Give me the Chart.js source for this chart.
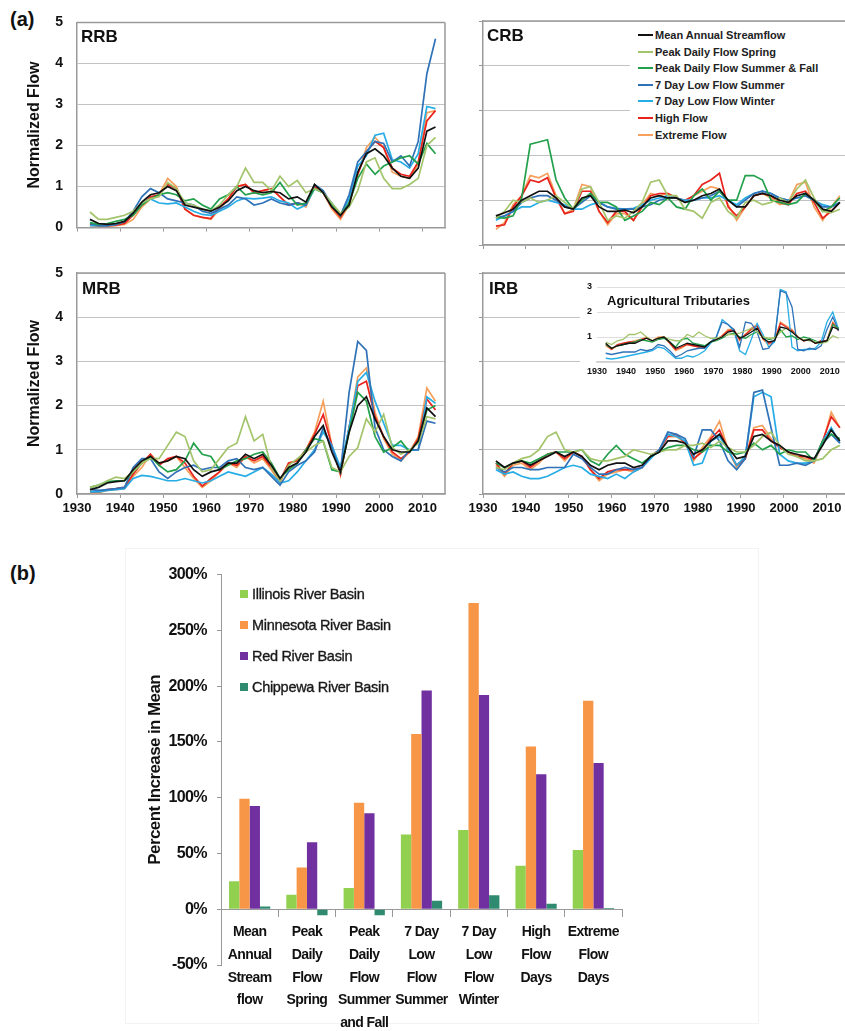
<!DOCTYPE html>
<html>
<head>
<meta charset="utf-8">
<script src="https://cdn.jsdelivr.net/npm/chart.js@4.4.1/dist/chart.umd.min.js"></script>
<style>
    body { margin: 0; background: #fff; width: 845px; height: 1031px; position: relative; overflow: hidden; font-family: 'Liberation Sans', Arial, sans-serif; }
    .pane { position: absolute; }
    canvas { display: block; }
    .tag { position: absolute; font-weight: bold; color: #111; line-height: 20px; }
    .legend-row { height: 16.6px; line-height: 16.6px; white-space: nowrap; font-size: 11px; font-weight: bold; color: #222; }
    .legend-row i { display: inline-block; width: 15px; height: 2px; vertical-align: middle; margin-right: 2px; position: relative; top: -1px; }
    .bar-row { height: 31px; line-height: 31px; white-space: nowrap; font-size: 14.5px; color: #1a1a1a; letter-spacing: -0.3px; -webkit-text-stroke: 0.35px #1a1a1a; }
    .bar-row i { display: inline-block; width: 8px; height: 8px; margin-right: 4px; vertical-align: middle; position: relative; top: -1px; }
</style>
</head>
<body>

<div class="tag" style="left:10px;top:9px;font-size:20px">(a)</div>
<div class="tag" style="left:10px;top:563px;font-size:20px">(b)</div>

<div class="pane" style="left:0;top:0"><canvas id="rrbChart" width="450" height="250"></canvas></div>
<div class="pane" style="left:462px;top:0"><canvas id="crbChart" width="383" height="250"></canvas></div>
<div class="pane" style="left:0;top:250px"><canvas id="mrbChart" width="450" height="270"></canvas></div>
<div class="pane" style="left:462px;top:250px"><canvas id="irbChart" width="383" height="270"></canvas></div>
<div class="pane" style="left:580px;top:275px;background:#fff"><canvas id="agChart" width="265" height="108"></canvas></div>

<div class="tag" style="left:81px;top:27px;font-size:17px">RRB</div>
<div class="tag" style="left:487px;top:26px;font-size:17px">CRB</div>
<div class="tag" style="left:82px;top:279px;font-size:17px">MRB</div>
<div class="tag" style="left:489px;top:279px;font-size:17px">IRB</div>
<div class="tag" style="left:607px;top:291px;font-size:13px">Agricultural Tributaries</div>

<div id="crbLegend" class="pane" style="left:630px;top:27px;width:215px;height:118px;background:#fff;padding-left:8px;box-sizing:border-box"></div>

<div class="pane" style="left:125px;top:548px;width:632px;height:474px;border:1px solid #f3f3f3"></div>
<div class="pane" style="left:0;top:555px"><canvas id="barChart" width="640" height="476"></canvas></div>
<div id="barLegend" class="pane" style="left:240px;top:579px"></div>

<script>
// --- Series shared by the four basin panels ---
const years = [1933,1935,1937,1939,1941,1943,1945,1947,1949,1951,1953,1955,1957,1959,1961,1963,1965,1967,1969,1971,1973,1975,1977,1979,1981,1983,1985,1987,1989,1991,1993,1995,1997,1999,2001,2003,2005,2007,2009,2011,2013];
const seriesNames = ['Mean Annual Streamflow', 'Peak Daily Flow Spring', 'Peak Daily Flow Summer & Fall', '7 Day Low Flow Summer', '7 Day Low Flow Winter', 'High Flow', 'Extreme Flow'];
const seriesColors = ['#111111', '#a3c46a', '#22a04b', '#2f72b8', '#27ade6', '#e8231d', '#f5a05c'];
const yTicks = [0, 1, 2, 3, 4, 5];

// RRB
const rrbMean      = [0.2,0.1,0.08,0.1,0.15,0.35,0.62,0.8,0.85,1.0,0.9,0.55,0.5,0.45,0.4,0.5,0.65,0.9,1.0,0.9,0.85,0.88,0.85,0.7,0.75,0.62,1.05,0.85,0.5,0.3,0.55,1.35,1.8,1.92,1.75,1.45,1.25,1.2,1.45,2.35,2.45];
const rrbSpring    = [0.38,0.2,0.2,0.25,0.3,0.4,0.6,0.7,0.75,1.1,0.95,0.6,0.55,0.45,0.4,0.55,0.8,1.0,1.45,1.1,1.1,0.9,1.25,1.0,1.15,0.85,0.95,0.85,0.6,0.35,0.5,0.9,1.6,1.7,1.2,0.95,0.95,1.05,1.2,2.0,2.2];
const rrbSummer    = [0.12,0.08,0.1,0.15,0.2,0.3,0.55,0.7,0.8,0.85,0.8,0.65,0.7,0.55,0.45,0.7,0.8,1.0,0.8,0.85,0.8,0.85,1.1,0.8,0.55,0.6,0.95,0.85,0.55,0.3,0.6,1.2,1.55,1.3,1.5,1.6,1.7,1.75,1.55,2.05,1.8];
const rrbLowSummer = [0.1,0.05,0.05,0.08,0.15,0.4,0.75,0.95,0.85,0.7,0.65,0.6,0.55,0.4,0.35,0.45,0.55,0.75,0.7,0.55,0.6,0.7,0.6,0.55,0.6,0.55,1.05,0.9,0.55,0.3,0.8,1.6,1.85,2.1,2.05,1.6,1.75,1.5,2.1,3.75,4.6];
const rrbLowWinter = [0.05,0.05,0.05,0.08,0.15,0.35,0.6,0.7,0.6,0.58,0.6,0.5,0.4,0.32,0.3,0.4,0.5,0.65,0.72,0.7,0.72,0.75,0.65,0.6,0.45,0.55,0.95,0.85,0.6,0.3,0.7,1.5,1.75,2.25,2.3,1.65,1.6,1.45,1.8,2.95,2.9];
const rrbHigh      = [0.08,0.05,0.05,0.06,0.1,0.3,0.55,0.75,0.8,1.05,0.95,0.45,0.3,0.25,0.22,0.5,0.7,1.0,1.05,0.85,0.9,0.95,0.75,0.55,0.6,0.55,1.0,0.85,0.5,0.25,0.6,1.3,1.85,2.1,1.95,1.45,1.3,1.25,1.6,2.6,2.85];
const rrbExtreme   = [0.05,0.03,0.03,0.05,0.08,0.2,0.5,0.7,0.8,1.2,1.0,0.45,0.3,0.25,0.2,0.45,0.7,1.0,1.05,0.85,0.9,0.95,0.75,0.55,0.6,0.5,1.0,0.85,0.45,0.2,0.55,1.3,1.95,2.2,1.95,1.35,1.25,1.2,1.55,2.8,2.85];

// CRB
const crbMean      = [0.65,0.72,0.8,1.0,1.1,1.2,1.2,1.05,0.85,0.8,1.05,1.1,0.85,0.75,0.75,0.78,0.72,0.85,1.05,1.1,1.05,1.05,0.95,1.0,1.1,1.15,1.25,1.0,0.85,0.85,1.1,1.15,1.1,1.0,0.95,1.1,1.15,1.0,0.8,0.75,0.95];
const crbSpring    = [0.6,0.75,1.0,0.95,1.05,0.95,1.0,1.1,0.95,0.8,1.25,1.3,0.95,0.55,0.65,0.6,0.75,0.95,1.4,1.45,1.1,1.1,0.8,0.75,0.6,0.95,1.05,0.75,0.6,0.95,1.0,0.9,0.95,1.05,0.95,1.25,1.45,1.05,0.75,0.72,0.8];
const crbSummer    = [0.62,0.6,0.65,1.05,2.25,2.3,2.35,1.45,1.05,0.8,1.0,1.15,0.95,0.95,0.85,0.55,0.65,0.75,0.95,0.9,1.05,0.85,0.8,1.1,1.25,1.0,1.2,1.0,1.0,1.55,1.55,1.45,1.0,0.95,0.9,0.95,1.15,1.0,0.75,0.85,1.05];
const crbLowSummer = [0.6,0.65,0.75,0.95,1.05,1.1,1.1,1.0,0.85,0.8,0.95,1.1,0.95,0.85,0.8,0.8,0.8,0.85,0.9,1.0,1.05,1.05,0.95,1.0,1.05,1.1,1.2,1.0,0.85,1.0,1.15,1.2,1.15,1.05,1.0,1.05,1.1,1.0,0.85,0.85,0.95];
const crbLowWinter = [0.55,0.65,0.75,0.85,0.85,0.95,1.0,0.95,0.9,0.8,0.8,0.9,0.95,0.85,0.82,0.8,0.82,0.9,1.0,1.05,1.1,1.05,1.0,1.0,1.05,1.05,1.1,1.0,0.9,1.05,1.15,1.2,1.15,1.05,1.0,1.05,1.1,1.0,0.9,0.85,0.95];
const crbHigh      = [0.42,0.45,0.85,1.1,1.45,1.4,1.5,1.05,0.7,0.75,1.2,1.2,0.75,0.5,0.75,0.75,0.55,0.85,1.1,1.15,1.15,1.05,1.0,1.1,1.35,1.45,1.6,0.85,0.65,0.85,1.1,1.15,1.1,0.95,0.9,1.15,1.2,0.95,0.6,0.75,0.95];
const crbExtreme   = [0.35,0.5,0.9,1.1,1.55,1.5,1.6,1.1,0.7,0.8,1.35,1.3,0.75,0.45,0.7,0.7,0.55,0.9,1.15,1.1,1.15,1.05,0.95,1.1,1.2,1.3,1.25,0.9,0.55,0.85,1.1,1.15,1.05,0.9,0.95,1.35,1.4,0.85,0.55,0.85,1.1];

// MRB
const mrbMean      = [0.1,0.15,0.25,0.28,0.3,0.55,0.75,0.85,0.7,0.75,0.85,0.8,0.55,0.4,0.5,0.55,0.7,0.7,0.9,0.8,0.9,0.65,0.35,0.6,0.7,0.95,1.3,1.55,0.95,0.5,1.4,2.0,2.2,1.7,1.3,1.0,0.95,0.95,1.2,1.95,1.75];
const mrbSpring    = [0.15,0.2,0.3,0.38,0.35,0.5,0.7,0.8,0.8,1.1,1.4,1.3,0.75,0.5,0.55,0.8,1.05,1.15,1.75,1.2,1.35,0.6,0.3,0.65,0.8,0.95,1.1,1.2,0.6,0.5,0.85,1.05,1.7,1.4,1.8,1.05,0.9,1.0,1.15,1.75,1.7];
const mrbSummer    = [0.15,0.2,0.28,0.3,0.3,0.5,0.7,0.85,0.65,0.5,0.55,0.75,1.15,0.9,0.85,0.55,0.65,0.75,0.8,0.9,0.95,0.7,0.35,0.55,0.7,1.0,1.25,1.2,0.55,0.5,1.4,2.3,2.1,1.3,0.95,1.05,1.2,0.95,1.2,1.9,2.0];
const mrbLowSummer = [0.1,0.08,0.1,0.12,0.15,0.6,0.8,0.8,0.5,0.35,0.5,0.6,0.65,0.55,0.6,0.6,0.75,0.8,0.6,0.55,0.6,0.4,0.2,0.5,0.65,0.75,0.95,1.5,1.05,0.5,2.3,3.45,3.25,1.5,1.0,0.85,0.75,1.0,1.0,1.65,1.6];
const mrbLowWinter = [0.05,0.05,0.08,0.1,0.12,0.35,0.42,0.4,0.35,0.3,0.3,0.35,0.3,0.25,0.3,0.4,0.5,0.45,0.4,0.5,0.6,0.45,0.25,0.3,0.5,0.75,1.0,1.4,1.1,0.6,1.5,2.55,2.75,2.1,1.6,1.1,1.1,1.0,1.0,2.2,2.05];
const mrbHigh      = [0.05,0.05,0.1,0.12,0.15,0.45,0.7,0.9,0.65,0.8,0.85,0.7,0.4,0.18,0.35,0.5,0.7,0.65,0.85,0.75,0.85,0.6,0.3,0.7,0.75,1.0,1.35,1.8,1.1,0.45,1.5,2.45,2.55,1.75,1.3,0.95,0.8,0.95,1.25,2.15,1.9];
const mrbExtreme   = [0.03,0.03,0.08,0.1,0.12,0.4,0.6,0.9,0.7,0.75,0.85,0.6,0.35,0.15,0.3,0.5,0.7,0.6,0.85,0.7,0.8,0.55,0.25,0.7,0.75,1.0,1.4,2.1,1.1,0.42,1.5,2.65,2.85,1.85,1.25,0.9,0.75,0.95,1.3,2.4,2.1];

// IRB
const irbMean      = [0.75,0.6,0.7,0.75,0.65,0.75,0.85,0.95,0.85,0.95,0.85,0.65,0.55,0.65,0.7,0.7,0.6,0.65,0.85,0.95,1.2,1.2,1.15,0.9,1.0,1.2,1.35,1.05,0.8,0.85,1.3,1.35,1.2,1.1,0.95,0.9,0.85,0.8,1.1,1.45,1.2];
const irbSpring    = [0.6,0.55,0.7,0.8,0.85,1.0,1.3,1.4,1.0,0.95,1.0,0.8,0.75,0.75,0.8,0.85,1.0,0.95,0.9,0.95,1.0,1.0,1.1,1.1,1.15,1.05,1.2,1.05,0.95,0.95,1.1,1.3,1.4,1.1,0.9,0.85,0.75,0.75,0.8,1.0,1.1];
const irbSummer    = [0.7,0.6,0.7,0.75,0.7,0.8,0.9,0.95,0.95,0.95,1.0,0.75,0.65,0.9,1.1,0.9,0.8,0.7,0.85,0.95,1.05,1.1,1.1,1.0,0.95,1.1,1.1,0.95,0.9,0.95,1.15,1.0,1.1,0.9,1.0,0.95,0.95,0.75,1.2,1.35,1.25];
const irbLowSummer = [0.6,0.5,0.6,0.6,0.55,0.55,0.6,0.6,0.6,0.9,0.8,0.6,0.45,0.45,0.55,0.6,0.55,0.6,0.85,1.0,1.4,1.35,1.25,0.85,1.45,1.45,1.2,0.75,0.55,0.8,2.3,2.35,1.5,0.65,0.65,0.7,0.65,0.75,1.15,1.35,1.15];
const irbLowWinter = [0.55,0.45,0.5,0.4,0.35,0.35,0.4,0.5,0.6,0.65,0.6,0.45,0.4,0.35,0.45,0.35,0.5,0.6,0.8,1.0,1.35,1.3,1.2,0.65,0.7,1.2,1.3,1.0,0.65,0.85,2.2,2.3,2.2,0.9,0.75,0.7,0.7,0.75,1.2,1.5,1.15];
const irbHigh      = [0.7,0.45,0.7,0.75,0.6,0.75,0.9,0.95,0.8,0.95,0.85,0.55,0.35,0.5,0.55,0.55,0.55,0.6,0.85,1.0,1.3,1.35,1.15,0.8,0.95,1.25,1.45,1.0,0.65,0.8,1.45,1.45,1.2,1.05,0.95,0.85,0.85,0.75,1.2,1.75,1.5];
const irbExtreme   = [0.65,0.4,0.65,0.7,0.55,0.7,0.9,0.95,0.75,0.95,0.85,0.55,0.3,0.45,0.5,0.55,0.5,0.6,0.85,1.0,1.3,1.3,1.15,0.75,1.05,1.3,1.65,1.0,0.6,0.8,1.5,1.55,1.25,1.05,0.95,0.85,0.8,0.7,1.15,1.85,1.5];

// Agricultural tributaries (inset)
const agMean      = [0.75,0.55,0.65,0.7,0.75,0.75,0.85,0.95,0.85,0.95,1.0,0.8,0.55,0.65,0.75,0.7,0.65,0.6,0.8,0.9,1.0,1.2,1.25,0.95,1.05,1.2,1.35,0.95,0.8,0.85,1.4,1.35,1.2,1.0,0.85,0.9,0.75,0.8,0.85,1.4,1.3];
const agSpring    = [0.8,0.7,0.85,0.9,1.1,1.1,1.2,1.0,0.85,0.95,1.0,0.9,0.85,0.85,1.1,1.0,1.2,1.05,0.95,0.95,1.0,1.1,1.1,1.15,1.25,1.35,1.2,1.0,0.95,0.95,1.2,1.35,1.2,1.0,0.9,0.85,0.8,0.75,0.8,1.05,0.95];
const agSummer    = [0.7,0.55,0.65,0.7,0.75,0.8,0.9,0.85,0.8,0.9,0.95,0.8,0.6,0.9,0.95,0.75,0.7,0.65,0.8,0.85,0.95,1.1,1.15,1.0,0.95,1.1,1.2,1.0,0.9,0.95,1.3,1.0,1.05,0.9,1.0,0.95,0.85,0.75,0.85,1.5,1.35];
const agLowSummer = [0.35,0.3,0.35,0.4,0.4,0.4,0.5,0.45,0.5,0.7,0.65,0.45,0.2,0.3,0.45,0.5,0.55,0.55,0.8,1.0,1.6,1.5,1.3,0.6,1.6,1.55,1.2,0.5,0.55,0.9,2.85,2.75,2.2,0.5,0.45,0.55,0.5,0.65,1.3,1.8,1.25];
const agLowWinter = [0.15,0.12,0.15,0.2,0.25,0.3,0.35,0.4,0.45,0.6,0.55,0.35,0.15,0.15,0.25,0.2,0.3,0.45,0.75,1.0,1.7,1.5,1.25,0.45,0.3,0.9,1.55,1.1,0.6,0.8,2.9,2.8,0.6,0.45,0.5,0.5,0.55,0.8,1.6,2.0,1.3];
const agHigh      = [0.7,0.5,0.7,0.75,0.8,0.8,0.9,0.95,0.85,0.95,1.0,0.75,0.5,0.6,0.7,0.65,0.6,0.6,0.8,0.9,1.05,1.25,1.3,0.9,1.1,1.3,1.45,0.95,0.75,0.85,1.55,1.4,1.25,1.0,0.85,0.9,0.75,0.85,0.85,1.55,1.25];
const agExtreme   = [0.65,0.5,0.65,0.7,0.8,0.85,0.9,1.0,0.85,1.0,1.0,0.75,0.45,0.55,0.7,0.65,0.6,0.6,0.8,0.9,1.05,1.3,1.3,0.85,1.1,1.35,1.5,0.9,0.7,0.85,1.6,1.45,1.3,1.0,0.85,0.9,0.75,0.85,0.85,1.6,1.3];

// --- Bar chart (b) ---
const barCategories = [
    ['Mean', 'Annual', 'Stream', 'flow'],
    ['Peak', 'Daily', 'Flow', 'Spring'],
    ['Peak', 'Daily', 'Flow', 'Summer', 'and Fall'],
    ['7 Day', 'Low', 'Flow', 'Summer'],
    ['7 Day', 'Low', 'Flow', 'Winter'],
    ['High', 'Flow', 'Days'],
    ['Extreme', 'Flow', 'Days']
];
const barSeriesNames = ['Illinois River Basin', 'Minnesota River Basin', 'Red River Basin', 'Chippewa River Basin'];
const barColors = ['#92d050', '#f79646', '#7030a0', '#2f8a70'];
const illinoisIncrease  = [25, 13, 19, 67, 71, 39, 53];
const minnesotaIncrease = [99, 37.5, 95.5, 157, 274.5, 146, 187];
const redIncrease       = [92.5, 60, 86, 196, 192, 121, 131];
const chippewaIncrease  = [2.5, -5.5, -5.5, 7.5, 12.5, 5, 1];
const barTicks = [-50, 0, 50, 100, 150, 200, 250, 300];

const FONT = "'Liberation Sans', Arial, sans-serif";
Chart.defaults.font.family = FONT;
Chart.defaults.color = '#111';

// --- Draws top / right border of the plot box ---
const framePlugin = {
    id: 'frame',
    afterDatasetsDraw(chart, args, opts) {
        if (!opts.sides || !opts.sides.length) return;
        const { ctx, chartArea: a } = chart;
        ctx.save();
        ctx.strokeStyle = opts.color || '#9a9a9a';
        ctx.lineWidth = 1.5;
        ctx.beginPath();
        if (opts.sides.includes('top')) { ctx.moveTo(a.left, a.top); ctx.lineTo(a.right, a.top); }
        if (opts.sides.includes('right')) { ctx.moveTo(a.right, a.top); ctx.lineTo(a.right, a.bottom); }
        ctx.stroke();
        ctx.restore();
    }
};

// squeeze the multi-line category labels a little, like the narrow font of the original
const narrowTicksPlugin = {
    id: 'narrowTicks',
    beforeDraw(chart) { chart.ctx.letterSpacing = '-0.6px'; },
    afterDraw(chart) { chart.ctx.letterSpacing = '0px'; }
};

function toPoints(values) {
    return years.map((yr, i) => ({ x: yr, y: values[i] }));
}

// --- One basin panel ---
function renderPanel(id, seriesList, cfg) {
    const ctx = document.getElementById(id);
    return new Chart(ctx, {
        type: 'line',
        data: {
            datasets: seriesList.map((values, i) => ({
                label: seriesNames[i],
                data: toPoints(values),
                borderColor: seriesColors[i],
                borderWidth: cfg.lineWidth || 1.7,
                pointRadius: 0,
                tension: 0,
                fill: false
            }))
        },
        plugins: [framePlugin],
        options: {
            responsive: false,
            animation: false,
            devicePixelRatio: 1,
            layout: { padding: { top: cfg.padTop, right: cfg.padRight, left: 0, bottom: 0 } },
            plugins: {
                legend: { display: false },
                tooltip: { enabled: false },
                frame: { sides: cfg.frame || [] }
            },
            scales: {
                x: {
                    type: 'linear',
                    min: 1930,
                    max: cfg.xMax,
                    afterFit: s => { s.height = cfg.xHeight; },
                    ticks: {
                        stepSize: 10,
                        includeBounds: false,
                        autoSkip: false,
                        maxRotation: 0,
                        display: cfg.showX,
                        padding: cfg.xPad || 3,
                        color: '#111',
                        font: { weight: 'bold', size: cfg.xFont || 13 },
                        callback: v => String(v)
                    },
                    grid: { drawOnChartArea: false, drawTicks: cfg.xTicks !== false, tickLength: 4, color: '#999' },
                    border: { display: cfg.xBorder !== false, color: cfg.borderColor || '#9a9a9a', width: 1.5 }
                },
                y: {
                    min: 0,
                    max: cfg.yMax || 5,
                    afterFit: s => { s.width = cfg.yWidth; },
                    afterBuildTicks: s => { s.ticks = cfg.yTickValues.map(v => ({ value: v })); },
                    ticks: {
                        display: cfg.showY,
                        padding: cfg.yPad || 14,
                        color: '#111',
                        font: { weight: 'bold', size: cfg.yFont || 14 },
                        callback: v => (cfg.hideZero && v === 0) ? '' : String(v)
                    },
                    grid: { color: cfg.gridColor || '#c2c2c2', drawTicks: !!cfg.yTicks, tickLength: 4, tickColor: '#999' },
                    border: { display: cfg.yBorder !== false, color: '#9a9a9a', width: 1.5 },
                    title: {
                        display: !!cfg.yTitle,
                        text: cfg.yTitle || '',
                        color: '#111',
                        font: { weight: 'bold', size: 16 },
                        padding: { top: 25, bottom: 0 }
                    }
                }
            }
        }
    });
}

const basePanelLeft = { xMax: 2015.2, yWidth: 77, padRight: 5, showY: true, yTitle: 'Normalized Flow', frame: ['top', 'right'], yTickValues: yTicks };
const basePanelRight = { xMax: 2014.2, yWidth: 21, padRight: 0, showY: false, yTicks: true, frame: ['top'], yTickValues: yTicks };

renderPanel('rrbChart', [rrbMean, rrbSpring, rrbSummer, rrbLowSummer, rrbLowWinter, rrbHigh, rrbExtreme],
    Object.assign({}, basePanelLeft, { padTop: 21, xHeight: 5, showX: false }));
renderPanel('crbChart', [crbMean, crbSpring, crbSummer, crbLowSummer, crbLowWinter, crbHigh, crbExtreme],
    Object.assign({}, basePanelRight, { padTop: 21, xHeight: 5, showX: false }));
renderPanel('mrbChart', [mrbMean, mrbSpring, mrbSummer, mrbLowSummer, mrbLowWinter, mrbHigh, mrbExtreme],
    Object.assign({}, basePanelLeft, { padTop: 23, xHeight: 26, showX: true }));
renderPanel('irbChart', [irbMean, irbSpring, irbSummer, irbLowSummer, irbLowWinter, irbHigh, irbExtreme],
    Object.assign({}, basePanelRight, { padTop: 23, xHeight: 26, showX: true }));

// inset: 0..3, small labels, no left axis
renderPanel('agChart', [agMean, agSpring, agSummer, agLowSummer, agLowWinter, agHigh, agExtreme], {
    xMax: 2015.2, yMax: 3, yWidth: 17, padRight: 0, padTop: 12, xHeight: 21,
    showX: true, showY: true, xTicks: false, yTicks: false, xFont: 9, yFont: 9, xPad: 4, yPad: 5,
    hideZero: true, yBorder: false, borderColor: '#d0d0d0', gridColor: '#dedede',
    yTickValues: [0, 1, 2, 3], lineWidth: 1.3
});

// --- Legends (HTML, white box over the plot) ---
const crbLegend = document.getElementById('crbLegend');
seriesNames.forEach((name, i) => {
    const row = document.createElement('div');
    row.className = 'legend-row';
    row.innerHTML = `<i style="background:${seriesColors[i]}"></i>${name}`;
    crbLegend.appendChild(row);
});

const barLegend = document.getElementById('barLegend');
barSeriesNames.forEach((name, i) => {
    const row = document.createElement('div');
    row.className = 'bar-row';
    row.innerHTML = `<i style="background:${barColors[i]}"></i>${name}`;
    barLegend.appendChild(row);
});

// --- Bar chart: percent increase in mean ---
new Chart(document.getElementById('barChart'), {
    type: 'bar',
    data: {
        labels: barCategories,
        datasets: [illinoisIncrease, minnesotaIncrease, redIncrease, chippewaIncrease].map((vals, i) => ({
            label: barSeriesNames[i],
            data: vals,
            backgroundColor: barColors[i],
            categoryPercentage: 0.72,
            barPercentage: 1
        }))
    },
    plugins: [narrowTicksPlugin],
    options: {
        responsive: false,
        animation: false,
        devicePixelRatio: 1,
        layout: { padding: { top: 19, right: 18, bottom: 66, left: 130 } },
        plugins: { legend: { display: false }, tooltip: { enabled: false } },
        scales: {
            x: {
                position: { y: 0 },
                ticks: {
                    autoSkip: false,
                    maxRotation: 0,
                    padding: 5,
                    color: '#111',
                    font: { weight: 'bold', size: 14, lineHeight: 1.62 }
                },
                grid: { drawOnChartArea: false, offset: true, tickLength: 7, color: '#999' },
                border: { color: '#999' }
            },
            y: {
                min: -50,
                max: 300,
                afterFit: s => { s.width = 91; },
                afterBuildTicks: s => { s.ticks = barTicks.map(v => ({ value: v })); },
                ticks: {
                    padding: 10,
                    color: '#111',
                    font: { weight: 'bold', size: 16 },
                    callback: v => v + '%'
                },
                grid: { drawOnChartArea: false, tickLength: 4, color: '#999' },
                border: { color: '#999' },
                title: {
                    display: true,
                    text: 'Percent Increase in Mean',
                    color: '#111',
                    font: { weight: 'bold', size: 17 },
                    padding: { top: 15, bottom: 0 }
                }
            }
        }
    }
});
</script>
</body>
</html>
